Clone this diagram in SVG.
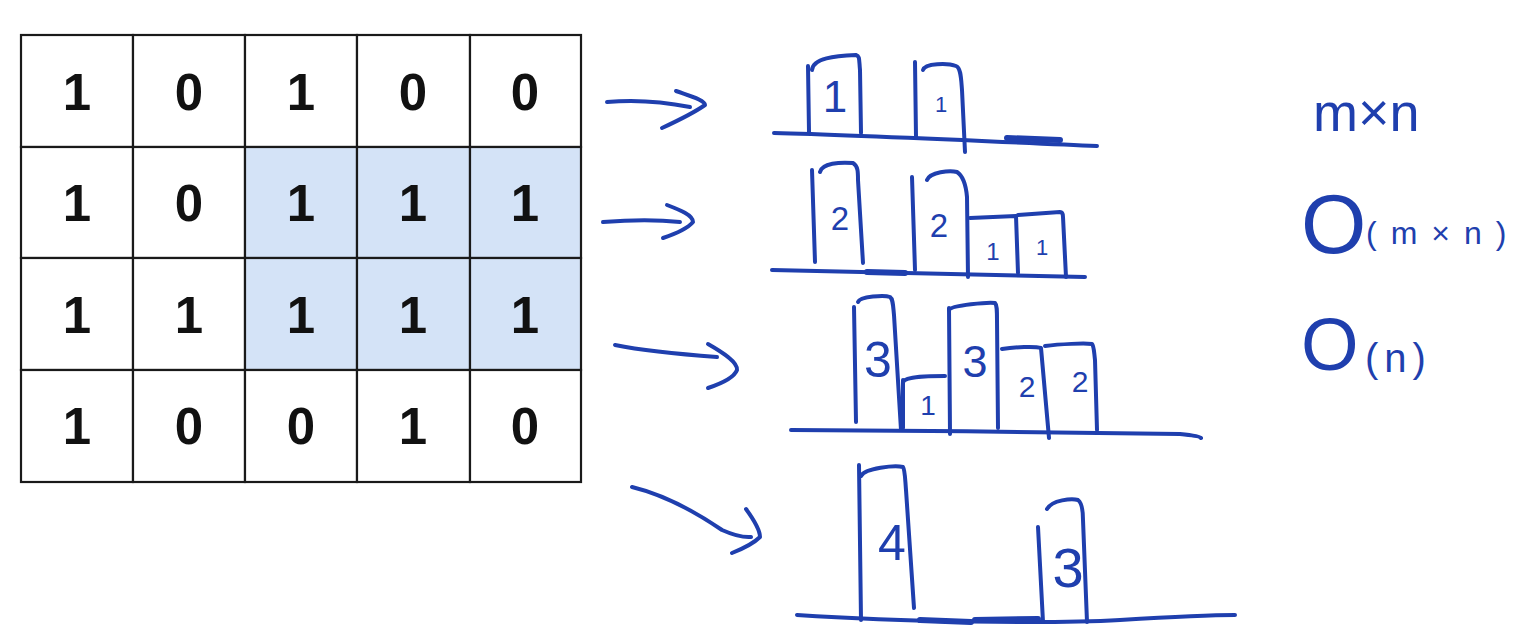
<svg xmlns="http://www.w3.org/2000/svg" width="1528" height="628" viewBox="0 0 1528 628">
<style>
.cell{fill:#ffffff;stroke:#1a1a1a;stroke-width:2.2}
.hl{fill:#d4e3f7}
.num{font-family:"Liberation Sans",Arial,sans-serif;font-weight:bold;font-size:51px;fill:#111;text-anchor:middle}
.pen{fill:none;stroke:#1f3fae;stroke-width:4;stroke-linecap:round;stroke-linejoin:round}
.thick{fill:none;stroke:#1f3fae;stroke-width:6;stroke-linecap:round}
.hw{font-family:"Liberation Sans",Arial,sans-serif;fill:#1f3fae;text-anchor:middle}
.note{font-family:"Liberation Sans",Arial,sans-serif;fill:#1f3fae}
</style>
<rect width="1528" height="628" fill="#ffffff"/>
<g id="grid">
<g id="c00"><rect class="cell" x="21" y="35" width="112" height="112"/><text class="num" x="77" y="110">1</text></g>
<g id="c01"><rect class="cell" x="133" y="35" width="112" height="112"/><text class="num" x="189" y="110">0</text></g>
<g id="c02"><rect class="cell" x="245" y="35" width="112" height="112"/><text class="num" x="301" y="110">1</text></g>
<g id="c03"><rect class="cell" x="357" y="35" width="113" height="112"/><text class="num" x="413" y="110">0</text></g>
<g id="c04"><rect class="cell" x="470" y="35" width="111" height="112"/><text class="num" x="525" y="110">0</text></g>
<g id="c10"><rect class="cell" x="21" y="147" width="112" height="111"/><text class="num" x="77" y="221">1</text></g>
<g id="c11"><rect class="cell" x="133" y="147" width="112" height="111"/><text class="num" x="189" y="221">0</text></g>
<g id="c12"><rect class="cell hl" x="245" y="147" width="112" height="111"/><text class="num" x="301" y="221">1</text></g>
<g id="c13"><rect class="cell hl" x="357" y="147" width="113" height="111"/><text class="num" x="413" y="221">1</text></g>
<g id="c14"><rect class="cell hl" x="470" y="147" width="111" height="111"/><text class="num" x="525" y="221">1</text></g>
<g id="c20"><rect class="cell" x="21" y="258" width="112" height="112"/><text class="num" x="77" y="333">1</text></g>
<g id="c21"><rect class="cell" x="133" y="258" width="112" height="112"/><text class="num" x="189" y="333">1</text></g>
<g id="c22"><rect class="cell hl" x="245" y="258" width="112" height="112"/><text class="num" x="301" y="333">1</text></g>
<g id="c23"><rect class="cell hl" x="357" y="258" width="113" height="112"/><text class="num" x="413" y="333">1</text></g>
<g id="c24"><rect class="cell hl" x="470" y="258" width="111" height="112"/><text class="num" x="525" y="333">1</text></g>
<g id="c30"><rect class="cell" x="21" y="370" width="112" height="112"/><text class="num" x="77" y="444">1</text></g>
<g id="c31"><rect class="cell" x="133" y="370" width="112" height="112"/><text class="num" x="189" y="444">0</text></g>
<g id="c32"><rect class="cell" x="245" y="370" width="112" height="112"/><text class="num" x="301" y="444">0</text></g>
<g id="c33"><rect class="cell" x="357" y="370" width="113" height="112"/><text class="num" x="413" y="444">1</text></g>
<g id="c34"><rect class="cell" x="470" y="370" width="111" height="112"/><text class="num" x="525" y="444">0</text></g>
</g>
<g id="connectors">
<path class="pen" d="M607,102 C640,99 665,102 690,107"/>
<path class="pen" stroke-width="5" d="M676,91 C690,96 705,100 705,105 C695,112 675,122 662,128"/>
<path class="pen" d="M603,222 C630,220 660,220 680,222"/>
<path class="pen" stroke-width="5" d="M667,205 C680,210 693,215 693,222 C688,228 675,234 663,238"/>
<path class="pen" d="M615,345 C650,352 690,355 717,357"/>
<path class="pen" stroke-width="5" d="M708,344 C722,352 738,362 737,370 C734,378 720,384 708,388"/>
<path class="pen" d="M632,487 C665,495 700,515 722,530 Q740,538 751,537"/>
<path class="pen" stroke-width="5" d="M746,509 C754,520 760,530 760,537 C754,543 742,549 732,553"/>
</g>
<g id="hist1">
<path class="pen" d="M774,133 C860,135 1000,142 1097,146"/>
<path class="thick" d="M1007,138 L1060,140"/>
<path class="pen" d="M808,66 L809,132"/>
<path class="pen" d="M812,70 C813,58 835,56 856,55 C860,56 859,60 860,70 L861,133"/>
<text class="hw" x="835" y="112" font-size="44">1</text>
<path class="pen" d="M915,62 L916,137"/>
<path class="pen" d="M923,70 C925,63 948,63 956,66 C961,68 961,78 962,90 L965,152"/>
<text class="hw" x="941" y="112" font-size="22">1</text>
</g>
<g id="hist2">
<path class="pen" d="M772,270 C900,272 1000,275 1085,277"/>
<path class="thick" d="M867,272 L905,273"/>
<path class="pen" d="M812,170 L815,262"/>
<path class="pen" d="M820,172 C822,163 840,162 853,163 C858,166 858,172 858,180 L863,263"/>
<text class="hw" x="840" y="230" font-size="33">2</text>
<path class="pen" d="M912,177 L915,270"/>
<path class="pen" d="M927,180 C930,172 950,170 957,172 C963,176 966,185 967,197 L968,277"/>
<text class="hw" x="939" y="237" font-size="33">2</text>
<path class="pen" d="M970,218 L1016,216 L1018,273"/>
<text class="hw" x="993" y="260" font-size="24">1</text>
<path class="pen" d="M1018,215 L1060,212 C1062,212 1063,214 1063,217 L1066,277"/>
<text class="hw" x="1042" y="255" font-size="22">1</text>
</g>
<g id="hist3">
<path class="pen" d="M791,430 C900,431 1100,432 1180,434 Q1200,436 1201,438"/>
<path class="pen" d="M854,307 L856,422"/>
<path class="pen" d="M858,302 C860,296 885,295 890,297 C893,299 893,305 894,315 L901,430"/>
<text class="hw" x="878" y="377" font-size="50">3</text>
<path class="pen" d="M903,380 L903,428"/>
<path class="pen" d="M903,382 C906,376 930,376 945,376"/>
<text class="hw" x="928" y="415" font-size="28">1</text>
<path class="pen" d="M949,308 L950,434"/>
<path class="pen" d="M949,310 C951,305 990,302 995,303 C997,305 997,310 997,320 L998,428"/>
<text class="hw" x="975" y="377" font-size="45">3</text>
<path class="pen" d="M1002,349 C1015,347 1035,346 1041,348 L1049,438"/>
<text class="hw" x="1027" y="397" font-size="30">2</text>
<path class="pen" d="M1045,346 C1060,344 1085,343 1092,344 C1094,346 1094,352 1095,360 L1097,430"/>
<text class="hw" x="1080" y="392" font-size="30">2</text>
</g>
<g id="hist4">
<path class="pen" d="M797,615 C900,622 1050,624 1120,620 C1170,617 1210,615 1235,615"/>
<path class="thick" d="M920,620 L971,622"/>
<path class="thick" d="M975,620 L1038,619"/>
<path class="pen" d="M859,465 L861,620"/>
<path class="pen" d="M861,476 C865,468 895,465 903,467 C905,470 905,478 906,490 L914,608"/>
<text class="hw" x="892" y="560" font-size="50">4</text>
<path class="pen" d="M1038,527 L1043,622"/>
<path class="pen" d="M1047,509 C1052,500 1072,498 1078,500 C1082,503 1083,510 1083,520 L1087,622"/>
<text class="hw" x="1068" y="587" font-size="56">3</text>
</g>
<g id="notes">
<text class="note" x="1313" y="131" font-size="54">m×n</text>
<text class="note" x="1301" y="253"><tspan font-size="84">O</tspan><tspan font-size="32" x="1366" y="244" letter-spacing="14">(m×n)</tspan></text>
<text class="note" x="1301" y="370"><tspan font-size="74">O</tspan><tspan font-size="40" x="1365" y="372" letter-spacing="6">(n)</tspan></text>
</g>
</svg>
